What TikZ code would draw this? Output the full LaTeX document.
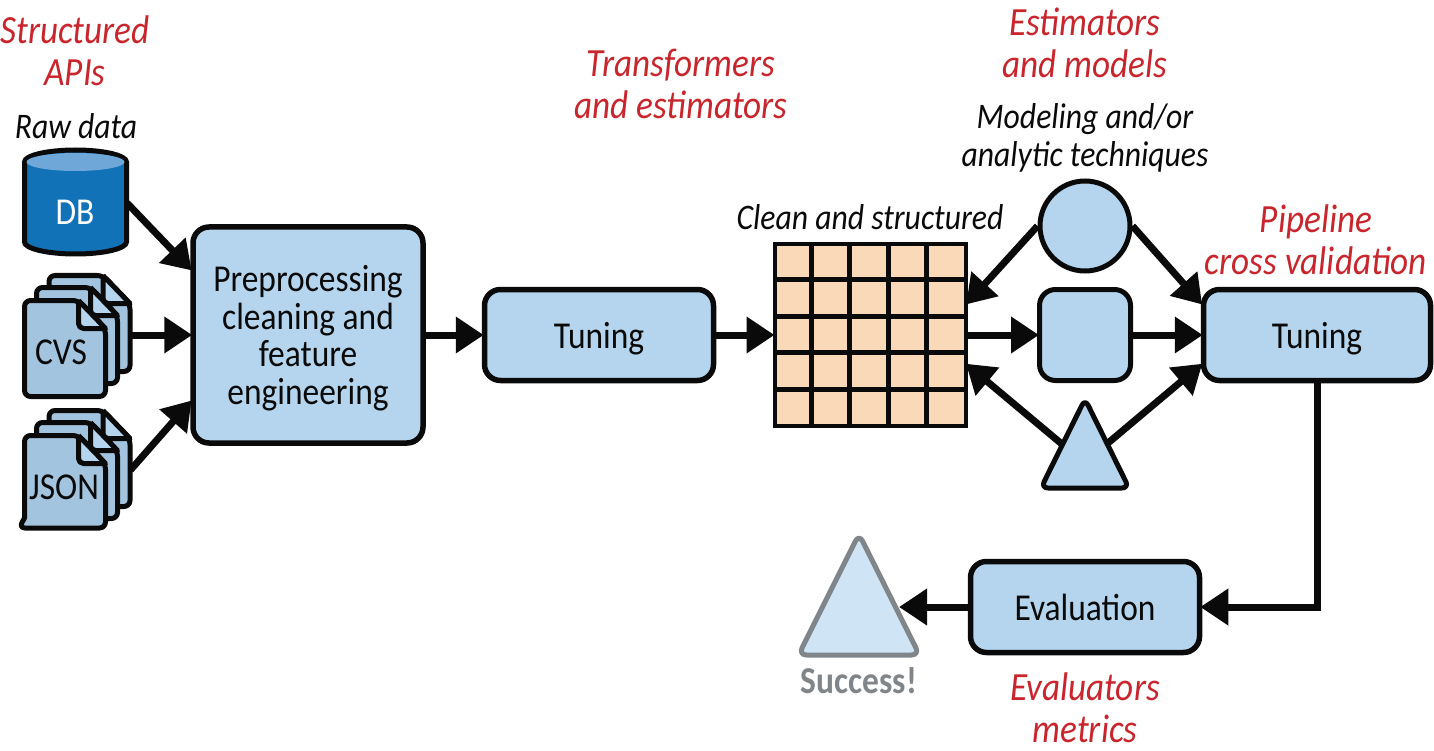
\documentclass[tikz,border=0pt]{standalone}
\usepackage{fontspec}
\setmainfont[FakeStretch=0.88]{Carlito}
\usetikzlibrary{arrows.meta,positioning}
\definecolor{boxblue}{HTML}{B5D5EE}
\definecolor{docblue}{HTML}{A3C4DF}
\definecolor{dbblue}{HTML}{1272B8}
\definecolor{dbtop}{HTML}{6FA8D8}
\definecolor{gridfill}{HTML}{FAD9B8}
\definecolor{notered}{HTML}{C8252C}
\definecolor{inkblack}{HTML}{0A0A0A}
\definecolor{failgray}{HTML}{7F8589}
\tikzset{
  stepbox/.style={draw=inkblack, line width=5.5pt, fill=boxblue, rounded corners=16pt, align=center,
    font=\fontsize{38}{37.5}\selectfont, text=inkblack, text depth=0pt},
  flow/.style={-{Triangle[length=28pt,width=35pt]}, line width=7pt, draw=inkblack, shorten >=-2pt},
  note/.style={align=center, text=notered, font=\fontsize{40}{42}\selectfont\itshape},
  blacknote/.style={align=center, text=inkblack, font=\fontsize{36}{38}\selectfont\itshape},
  docpage/.style={draw=inkblack, line width=5pt, fill=docblue, line join=round},
  docfold/.style={draw=inkblack, line width=5pt, fill=boxblue, line join=round},
}
% one sheet: #1 and #2 are the top left corner
\newcommand{\docsheet}[2]{
  \draw[docpage, rounded corners=6pt] (#1,#2) -- ++(54,0) -- ++(27,28) -- ++(0,68) -- ++(-81,0) -- cycle;
  \draw[docfold] (#1+54,#2) -- ++(27,28) -- ++(-20,0) [rounded corners=5pt] -- ++(-7,0) -- ++(0,-28);
}
\begin{document}
\begin{tikzpicture}[x=1pt,y=-1pt]
  \useasboundingbox (0,0) rectangle (1434,751);

  % Notes
  \node[note] (apinote) at (75,51) {Structured\\APIs};
  \node[blacknote] (rawnote) at (76,126) {Raw data};
  \node[note] (transnote) at (681,84) {Transformers\\and estimators};
  \node[note] (estnote) at (1085,43) {Estimators\\and models};
  \node[blacknote] (technote) at (1085,138) {Modeling and/or\\analytic techniques};
  \node[blacknote] (cleannote) at (870,217) {Clean and structured};
  \node[note] (pipenote) at (1316,240) {Pipeline\\cross validation};
  \node[note] (evalnote) at (1085,708) {Evaluators\\metrics};

  % Database
  \draw[line width=5pt, draw=inkblack, fill=dbblue] (24.5,162) -- (24.5,242)
    arc[start angle=180, end angle=0, x radius=51, y radius=12] -- (126.5,162)
    arc[start angle=0, end angle=-180, x radius=51, y radius=12] -- cycle;
  \fill[dbtop] (75.5,162) ellipse[x radius=49, y radius=9];
  \node[text=white, font=\fontsize{38}{38}\selectfont] (db) at (75,212) {DB};
  \coordinate (dbout) at (127,203);

  % Stacks of files
  \foreach \dy in {0,135} {
    \docsheet{49}{275.5+\dy}
    \docsheet{36.5}{287.5+\dy}
  }
  \docsheet{24.5}{300.5}
  \draw[docpage, rounded corners=6pt] (24.5,435.5) -- ++(54,0) -- ++(27,28) -- (105.5,528)
    -- (60,528) -- (19,528) [sharp corners] -- (24.5,518) [rounded corners=6pt] -- cycle;
  \draw[docfold] (78.5,435.5) -- ++(27,28) -- ++(-20,0) [rounded corners=5pt] -- ++(-7,0) -- ++(0,-28);
  \node[font=\fontsize{38}{38}\selectfont, text=inkblack] (cvslabel) at (61,352) {CVS};
  \node[font=\fontsize{38}{38}\selectfont, text=inkblack] (jsonlabel) at (64,487) {JSON};
  \node[minimum width=109pt, minimum height=124pt, inner sep=0pt, outer sep=0pt] (cvs) at (76,335) {};
  \node[minimum width=109pt, minimum height=124pt, inner sep=0pt, outer sep=0pt] (json) at (76,470) {};

  % Main boxes
  \node[stepbox, minimum width=230pt, minimum height=216pt] (prep) at (308,335)
    {Preprocessing\\cleaning and\\feature\\engineering};
  \node[stepbox, minimum width=229pt, minimum height=91pt] (tuneone) at (599,335) {Tuning};
  \node[stepbox, minimum width=227pt, minimum height=91pt] (tunetwo) at (1317,335) {Tuning};
  \node[stepbox, minimum width=229pt, minimum height=91pt] (eval) at (1085,607) {Evaluation};

  % Table of clean data
  \node[draw=inkblack, line width=4pt, fill=gridfill, minimum width=191pt, minimum height=181pt,
    inner sep=0pt] (cleangrid) at (870,335) {};
  \foreach \i in {1,...,4} {
    \draw[inkblack, line width=5pt] (773+\i*38.4,243) -- (773+\i*38.4,427);
    \draw[inkblack, line width=5pt] (773,243+\i*36.6) -- (967,243+\i*36.6);
  }

  % Models
  \node[draw=inkblack, line width=5pt, fill=boxblue, circle, minimum size=90pt, inner sep=0pt] (circ) at (1085,226) {};
  \node[draw=inkblack, line width=5pt, fill=boxblue, rounded corners=16pt, minimum size=91pt, inner sep=0pt] (sq) at (1085,335) {};
  \draw[draw=inkblack, line width=5pt, fill=boxblue, rounded corners=7pt, line join=round]
    (1085,399) -- (1129,488) -- (1041,488) -- cycle;
  \coordinate (trileft) at (1063,445);
  \coordinate (triright) at (1108,443);

  % Success
  \draw[draw=failgray, line width=5pt, fill=boxblue!65!white, rounded corners=8pt, line join=round]
    (859,534) -- (919.5,655) -- (798.5,655) -- cycle;
  \coordinate (win) at (901,607);
  \node[text=failgray, font=\fontsize{38}{38}\selectfont\bfseries] (winlabel) at (859,681) {Success!};

  % Flow
  \draw[flow] (dbout) -- ([yshift=66pt]prep.west);
  \draw[flow] (cvs.east) -- (prep.west);
  \draw[flow] (json.east) -- ([yshift=-67pt]prep.west);
  \draw[flow] (prep.east) -- (tuneone.west);
  \draw[flow] (tuneone.east) -- (cleangrid.west);
  \draw[flow] (cleangrid.east) -- (sq.west);
  \draw[flow] (sq.east) -- (tunetwo.west);
  \draw[flow] (circ.180) -- ([yshift=32pt]cleangrid.east);
  \draw[flow] (circ.0) -- ([yshift=32pt]tunetwo.west);
  \draw[flow] (trileft) -- ([yshift=-30pt]cleangrid.east);
  \draw[flow] (triright) -- ([yshift=-30pt]tunetwo.west);
  \draw[flow] (tunetwo.south) |- (eval.east);
  \draw[flow] (eval.west) -- (win);
\end{tikzpicture}
\end{document}
